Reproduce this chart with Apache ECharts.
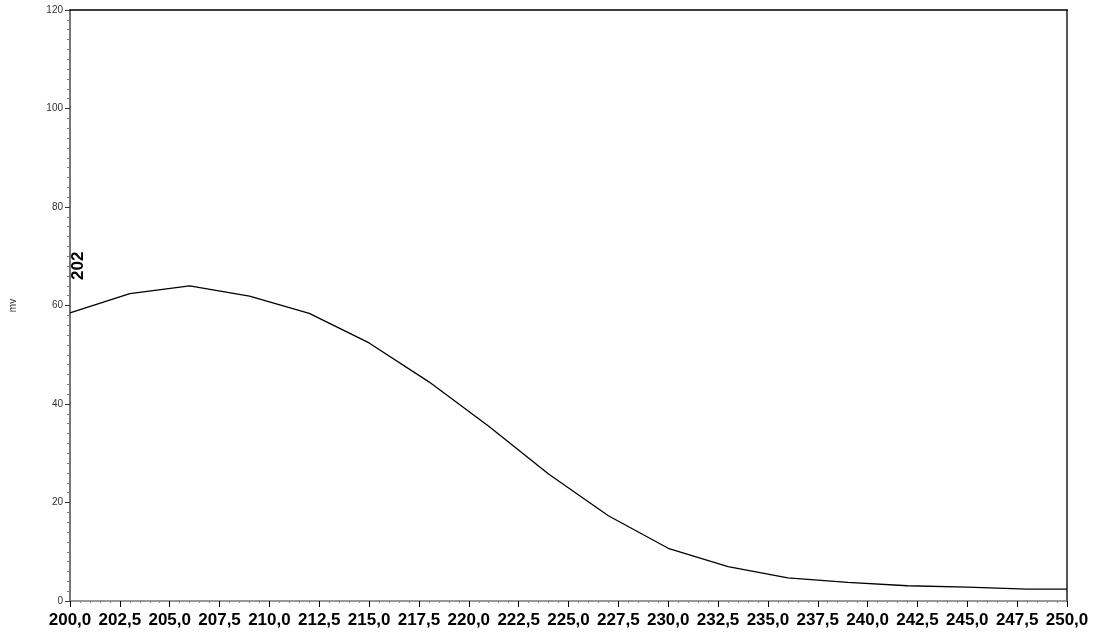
<!DOCTYPE html>
<html>
<head>
<meta charset="utf-8">
<style>
  html, body { margin: 0; padding: 0; background: #fff; }
  #chart { width: 1098px; height: 637px; }
</style>
<script src="https://cdn.jsdelivr.net/npm/echarts@6/dist/echarts.min.js"></script>
</head>
<body>
<div id="chart"></div>
<script>
// Spectrum sampled every 3 nm from 200 to 250 nm
const wavelengths = [200, 203, 206, 209, 212, 215, 218, 221, 224, 227, 230, 233, 236, 239, 242, 245, 248, 250];
const signal = [58.5, 62.4, 64.0, 61.9, 58.4, 52.4, 44.5, 35.5, 25.8, 17.3, 10.7, 7.0, 4.7, 3.8, 3.1, 2.8, 2.4, 2.4];
const peakLabel = '202';
const yName = 'mv';

const points = wavelengths.map((w, i) => [w, signal[i]]);
const fmtComma = v => v.toFixed(1).replace('.', ',');

const chart = echarts.init(document.getElementById('chart'), null, { renderer: 'canvas' });

chart.setOption({
  animation: false,
  backgroundColor: '#fff',
  grid: { left: 68, right: 31, top: 10, bottom: 36 },
  xAxis: [
    {
      type: 'value',
      min: 200,
      max: 250,
      interval: 2.5,
      axisLine: { show: true, onZero: false, lineStyle: { color: '#777', width: 1.5 } },
      axisTick: { show: true, length: 6, lineStyle: { color: '#000', width: 1 } },
      minorTick: { show: true, splitNumber: 5, length: 2, lineStyle: { color: '#888' } },
      splitLine: { show: false },
      axisLabel: {
        margin: 11,
        color: '#000',
        fontFamily: 'Liberation Sans, Arial, sans-serif',
        fontWeight: 'bold',
        fontSize: 17,
        formatter: fmtComma
      }
    },
    {
      type: 'value',
      position: 'top',
      min: 200,
      max: 250,
      axisLine: { show: true, onZero: false, lineStyle: { color: '#000', width: 1.5 } },
      axisTick: { show: false },
      axisLabel: { show: false },
      splitLine: { show: false }
    }
  ],
  yAxis: [
    {
      type: 'value',
      min: 0,
      max: 120,
      interval: 20,
      name: yName,
      nameLocation: 'middle',
      nameGap: 52,
      nameRotate: 90,
      nameTextStyle: { color: '#333', fontSize: 10, fontFamily: 'Liberation Sans, Arial, sans-serif' },
      axisLine: { show: true, onZero: false, lineStyle: { color: '#777', width: 2 } },
      axisTick: { show: true, length: 5, lineStyle: { color: '#333', width: 1 } },
      minorTick: { show: true, splitNumber: 10, length: 3, lineStyle: { color: '#777' } },
      splitLine: { show: false },
      axisLabel: {
        margin: 7,
        color: '#333',
        fontSize: 10,
        fontFamily: 'Liberation Sans, Arial, sans-serif'
      }
    },
    {
      type: 'value',
      position: 'right',
      min: 0,
      max: 120,
      axisLine: { show: true, onZero: false, lineStyle: { color: '#555', width: 2 } },
      axisTick: { show: false },
      axisLabel: { show: false },
      splitLine: { show: false }
    }
  ],
  series: [
    {
      type: 'line',
      data: points,
      showSymbol: false,
      symbol: 'none',
      lineStyle: { color: '#000', width: 1.3 },
      clip: true,
      z: 3
    }
  ],
  graphic: [
    {
      type: 'text',
      x: 78,
      y: 280,
      rotation: Math.PI / 2,
      style: {
        text: peakLabel,
        fill: '#000',
        font: 'bold 17px "Liberation Sans", Arial, sans-serif',
        textAlign: 'left',
        textVerticalAlign: 'middle'
      }
    }
  ]
});
</script>
</body>
</html>
